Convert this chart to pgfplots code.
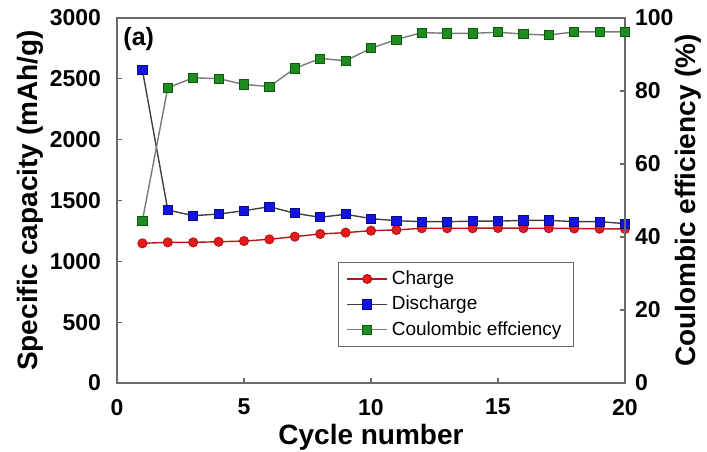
\documentclass[border=0pt]{standalone}
\usepackage{fontspec}
\setmainfont{Liberation Sans}
\usepackage{pgfplots}
\pgfplotsset{compat=1.18}
\definecolor{chgRed}{HTML}{E51B1B}
\definecolor{chgEdge}{HTML}{B01010}
\definecolor{disBlue}{HTML}{1414E0}
\definecolor{disEdge}{HTML}{0A0A90}
\definecolor{ceGreen}{HTML}{1E8C1E}
\definecolor{ceEdge}{HTML}{0B5A0B}
\definecolor{frameGrey}{HTML}{6A6A6A}
\definecolor{lineGrey}{HTML}{7A7A7A}
\pgfplotsset{
  cbase/.style={
    scale only axis, width=254pt, height=182.5pt,
    xmin=0, xmax=20, xtick={0,5,10,15,20},
    tick align=inside, major tick length=2.5pt,
    axis line style={frameGrey, line width=0.8pt},
    tick style={frameGrey, line width=0.6pt},
    tick label style={font=\fontsize{11.5}{13}\selectfont\bfseries},
    label style={font=\fontsize{14}{16}\selectfont\bfseries},
    /pgf/number format/assume math mode=true,
    /pgf/number format/1000 sep={},
    scaled y ticks=false,
  },
  chargeplot/.style={color=chgRed!80!black, line width=0.7pt, mark=*, mark size=2.3pt,
    mark options={fill=chgRed, draw=chgEdge, line width=0.4pt}},
  dischargeplot/.style={color=black!75, line width=0.7pt, mark=square*, mark size=2.3pt,
    mark options={fill=disBlue, draw=disEdge, line width=0.4pt}},
  ceplot/.style={color=lineGrey, line width=0.7pt, mark=square*, mark size=2.3pt,
    mark options={fill=ceGreen, draw=ceEdge, line width=0.4pt}},
}
\begin{document}
\begin{tikzpicture}
\begin{axis}[
  cbase,
  ymin=0, ymax=3000, ytick={0,500,1000,1500,2000,2500,3000},
  ytick pos=left, xtick pos=bottom,
  xlabel={Cycle number}, ylabel={Specific capacity (mAh/g)},
  xlabel style={at={(axis description cs:0.5,-0.149)}, anchor=center, inner sep=0.5pt},
  ylabel style={at={(axis description cs:-0.171,0.5)}, anchor=center},
  yticklabel style={xshift=-4.5pt},
  xticklabel style={inner sep=1pt, yshift=-6.8pt},
]
\addplot[chargeplot] coordinates {
  (1,1148) (2,1156) (3,1156) (4,1161) (5,1167) (6,1181) (7,1203) (8,1225)
  (9,1236) (10,1252) (11,1258) (12,1272) (13,1272) (14,1272) (15,1274)
  (16,1272) (17,1272) (18,1270) (19,1268) (20,1266)};
\addplot[dischargeplot] coordinates {
  (1,2572) (2,1422) (3,1375) (4,1389) (5,1416) (6,1449) (7,1395) (8,1362)
  (9,1387) (10,1351) (11,1334) (12,1326) (13,1326) (14,1330) (15,1330)
  (16,1337) (17,1337) (18,1326) (19,1326) (20,1310)};
\node[anchor=north west, font=\fontsize{12.5}{14}\selectfont\bfseries, inner sep=1pt]
  at (rel axis cs:0.008,0.982) {(a)};
\end{axis}
\begin{axis}[
  cbase,
  hide x axis,
  ymin=0, ymax=100, ytick={0,20,40,60,80,100},
  ytick pos=right, yticklabel pos=right,
  ylabel={Coulombic efficiency (\%)},
  ylabel style={at={(axis description cs:1.124,0.5)}, anchor=center, rotate=0},
  yticklabel style={xshift=1.5pt},
  legend style={at={(0.435,0.3315)}, anchor=north west, draw=frameGrey, line width=0.6pt,
    font=\fontsize{9.5}{11}\selectfont, cells={anchor=west}, inner xsep=4pt, inner ysep=2pt,
    row sep=0.3pt},
  legend image code/.code={\draw[mark repeat=2, mark phase=2]
    plot coordinates {(0cm,0cm) (0.35cm,0cm) (0.7cm,0cm)};},
]
\addlegendimage{chargeplot}
\addlegendentry{Charge}
\addlegendimage{dischargeplot}
\addlegendentry{Discharge}
\addplot[ceplot] coordinates {
  (1,44.5) (2,80.9) (3,83.6) (4,83.4) (5,81.8) (6,81.2) (7,86.2) (8,88.9)
  (9,88.3) (10,91.7) (11,94.1) (12,96.0) (13,95.8) (14,95.8) (15,96.1)
  (16,95.6) (17,95.3) (18,96.2) (19,96.2) (20,96.2)};
\addlegendentry{Coulombic effciency}
\end{axis}
\pgfresetboundingbox
\useasboundingbox (-58.5pt,-34pt) rectangle (295pt,191.5pt);
\end{tikzpicture}
\end{document}
